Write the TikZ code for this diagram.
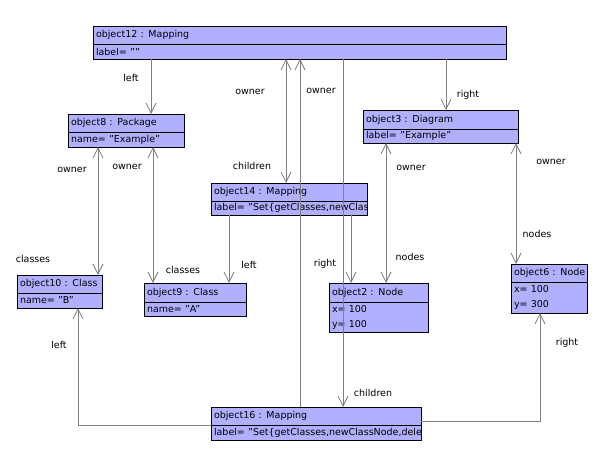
\documentclass[tikz,border=0pt]{standalone}
\usepackage{fontspec}
\setmainfont{DejaVu Sans}
\usetikzlibrary{arrows.meta}
\definecolor{boxfill}{RGB}{176,176,255}
\definecolor{linegray}{RGB}{128,128,128}
\newcommand\umlobj[9]{%
  \node[part, text width=#5pt, minimum height=#6pt] (#1h) at (#2,#3) {\mbox{#8}};
  \node[part, text width=#5pt, minimum height=#7pt] (#1a) at (#1h.south west) {#9};
}
\newcommand\umlobjclip[9]{%
  \node[part, text width=#5pt, minimum height=#6pt] (#1h) at (#2,#3) {\mbox{#8}};
  \node[part, text width=#5pt, minimum height=#7pt,
        path picture={\node[anchor=west, inner xsep=3pt, inner ysep=0pt, font=\fontsize{9.5}{15}\selectfont] at (path picture bounding box.west) {\mbox{#9}};}]
        (#1a) at (#1h.south west) {};
}
\begin{document}
\begin{tikzpicture}[x=1pt,y=-1pt,
  part/.style={draw=black, fill=boxfill, line width=0.8pt, anchor=north west,
    inner xsep=3pt, inner ysep=0pt, align=left, outer sep=0pt,
    font=\fontsize{9.5}{15}\selectfont},
  conn/.style={draw=linegray, line width=0.8pt},
  tip/.tip={Straight Barb[length=10pt,width=10pt,line width=0.8pt]},
  lbl/.style={font=\fontsize{9.5}{11}\selectfont, inner sep=0pt, anchor=base}]
\fill[white] (0,0) rectangle (609,461);
\useasboundingbox (0,0) rectangle (609,461);

% objects
\umlobj{o12}{93}{26}{413}{407}{18}{15}{object12 : Mapping}{label= ""}
\umlobj{o8}{68}{114}{116}{110}{18}{15}{object8 : Package}{name= "Example"}
\umlobj{o3}{363}{110}{155}{149}{19}{14}{object3 : Diagram}{label= "Example"}
\umlobjclip{o14}{211}{183}{156}{150}{18}{14}{object14 : Mapping}{label= "Set\{getClasses,newClass}
\umlobj{o10}{17}{275}{85}{79}{18}{15}{object10 : Class}{name= "B"}
\umlobj{o9}{144}{283}{102}{96}{19}{14}{object9 : Class}{name= "A"}
\umlobj{o2}{329}{283}{99}{93}{19}{30}{object2 : Node}{x= 100\\y= 100}
\umlobj{o6}{511}{264}{76}{70}{18}{31}{object6 : Node}{x= 100\\y= 300}
\umlobjclip{o16}{211}{407}{210}{204}{18}{15}{object16 : Mapping}{label= "Set\{getClasses,newClassNode,dele}

% column coordinates
\coordinate (c78) at (78,0);
\coordinate (c98) at (98,0);
\coordinate (c151) at (151,0);
\coordinate (c153) at (153,0);
\coordinate (c229) at (229,0);
\coordinate (c286) at (286,0);
\coordinate (c300) at (300,0);
\coordinate (c343) at (343,0);
\coordinate (c351) at (351,0);
\coordinate (c386) at (386,0);
\coordinate (c446) at (446,0);
\coordinate (c516) at (516,0);
\coordinate (c540) at (540,0);
\coordinate (r421) at (0,421);

% connectors
\draw[conn, -{tip}] (o12a.south -| c151) -- (o8h.north -| c151);
\draw[conn, {tip}-{tip}] (o12a.south -| c286) -- (o14h.north -| c286);
\draw[conn, -{tip}] (o16h.north -| c300) -- (o12a.south -| c300);
\draw[conn, -{tip}] (o12a.south -| c343) -- (o16h.north -| c343);
\draw[conn, -{tip}] (o12a.south -| c446) -- (o3h.north -| c446);
\draw[conn, {tip}-{tip}] (o8a.south -| c98) -- (o10h.north -| c98);
\draw[conn, {tip}-{tip}] (o8a.south -| c153) -- (o9h.north -| c153);
\draw[conn, -{tip}] (o14a.south -| c229) -- (o9h.north -| c229);
\draw[conn, -{tip}] (o14a.south -| c351) -- (o2h.north -| c351);
\draw[conn, {tip}-{tip}] (o3a.south -| c386) -- (o2h.north -| c386);
\draw[conn, {tip}-{tip}] (o3a.south -| c516) -- (o6h.north -| c516);
\draw[conn, -{tip}] (o16h.south west) -| (o10a.south -| c78);
\draw[conn, -{tip}] (o16h.east |- r421) -| (o6a.south -| c540);

% labels
\node[lbl] (l1) at (131,81) {left};
\node[lbl] (l2) at (250,94) {owner};
\node[lbl] (l3) at (321,93) {owner};
\node[lbl] (l4) at (468,97) {right};
\node[lbl] (l5) at (72,172) {owner};
\node[lbl] (l6) at (127,169) {owner};
\node[lbl] (l7) at (252,169) {children};
\node[lbl] (l8) at (411,170) {owner};
\node[lbl] (l9) at (551,164) {owner};
\node[lbl] (l10) at (33,262) {classes};
\node[lbl] (l11) at (183,273) {classes};
\node[lbl] (l12) at (249,268) {left};
\node[lbl] (l13) at (325,266) {right};
\node[lbl] (l14) at (410,260) {nodes};
\node[lbl] (l15) at (537,237) {nodes};
\node[lbl] (l16) at (59,348) {left};
\node[lbl] (l17) at (567,345) {right};
\node[lbl] (l18) at (373,396) {children};
\end{tikzpicture}
\end{document}
